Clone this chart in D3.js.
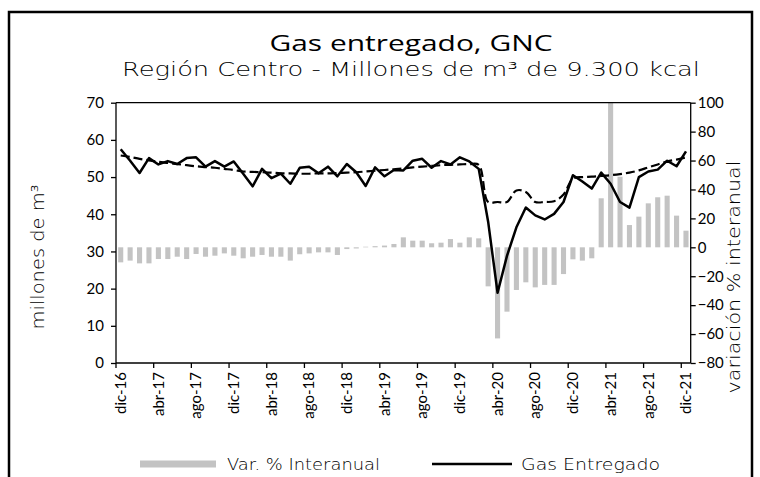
<!DOCTYPE html>
<html>
<head>
<meta charset="utf-8">
<script src="https://cdn.jsdelivr.net/npm/d3@7"></script>
<style>
  html, body { margin: 0; padding: 0; background: #fff; }
  svg { display: block; }
  text { font-family: "Lato", "Open Sans", sans-serif; fill: #000; }
</style>
</head>
<body>
<svg id="chart" width="760" height="477"></svg>
<script>
// Monthly GNC gas delivered, Región Centro, dic-2016 .. dic-2021
const monthNames = ["ene","feb","mar","abr","may","jun","jul","ago","sep","oct","nov","dic"];
const months = ["dic-16"];
for (let y = 17; y <= 21; y++) monthNames.forEach(m => months.push(m + "-" + y));

// Gas entregado (millones de m3)
const gasEntregado = [
  57.5, 54.4, 51.1, 55.1, 53.4, 54.3, 53.5, 55.1, 55.3, 52.8, 54.3, 52.8,
  54.2, 50.9, 47.5, 52.2, 49.7, 50.9, 48.2, 52.5, 52.8, 51.0, 52.8, 50.2,
  53.5, 51.3, 47.6, 52.6, 50.2, 51.9, 51.8, 54.4, 54.9, 52.5, 54.3, 53.4,
  55.3, 54.2, 52.2, 38.0, 18.9, 28.8, 36.5, 41.8, 39.7, 38.6, 40.1, 43.3,
  50.5, 48.8, 46.9, 51.2, 48.2, 43.3, 41.8, 50.0, 51.5, 52.0, 54.4, 52.9,
  56.9
];

// Trend of gas delivered (dashed line)
const tendencia = [
  55.8, 55.4, 54.9, 54.5, 54.1, 53.8, 53.5, 53.2, 52.9, 52.7, 52.5, 52.2,
  51.9, 51.5, 51.4, 51.3, 51.2, 51.0, 51.0, 50.9, 50.9, 51.0, 51.0, 51.1,
  51.2, 51.3, 51.5, 51.7, 51.9, 52.1, 52.3, 52.6, 52.8, 53.0, 53.2, 53.3,
  53.4, 53.5, 53.3, 43.3, 43.3, 43.3, 46.4, 46.0, 43.3, 43.3, 43.5, 45.3,
  49.6, 50.0, 50.1, 50.3, 50.5, 50.8, 51.2, 51.8, 52.6, 53.4, 54.2, 54.7,
  55.3
];

// Variación % interanual
const variacion = [
  -10.4, -9.2, -11.1, -11.1, -8.1, -8.1, -6.5, -8.1, -4.6, -6.5, -5.8, -4.2,
  -5.8, -7.6, -6.5, -5.3, -6.5, -6.5, -9.2, -4.8, -4.2, -3.5, -3.5, -5.3,
  -1.2, -0.8, 0.4, 0.8, 1.2, 2.3, 6.9, 4.6, 4.6, 2.8, 3.2, 5.7,
  3.2, 6.9, 6.2, -27.0, -63.0, -44.5, -29.5, -24.2, -27.7, -26.0, -26.0, -18.5,
  -8.3, -9.2, -7.6, 33.9, 155.0, 48.8, 15.4, 21.2, 30.4, 34.6, 35.7, 21.9,
  11.5
];

const leftTicks = [0, 10, 20, 30, 40, 50, 60, 70];
const rightTicks = [-80, -60, -40, -20, 0, 20, 40, 60, 80, 100];
const xTickLabels = months.filter((m, i) => i % 4 === 0);

const svg = d3.select("#chart");
const plot = { left: 116, right: 690.7, top: 102.7, bottom: 363 };
const lightFont = "'DejaVu Sans', sans-serif";

// Stretch a text horizontally to span the given width
function span(sel, width) {
  sel.attr("textLength", width).attr("lengthAdjust", "spacingAndGlyphs");
  return sel;
}

// Outer frame
svg.append("path")
  .attr("d", `M9,477 V12 H752 V477`)
  .attr("fill", "none").attr("stroke", "#000").attr("stroke-width", 2.5);

// Titles
svg.append("text").attr("x", 411).attr("y", 51).attr("text-anchor", "middle")
  .style("font-family", "'Open Sans', sans-serif").style("font-size", "21px")
  .text("Gas entregado, GNC").call(span, 283);
svg.append("text").attr("x", 411).attr("y", 76).attr("text-anchor", "middle")
  .style("font-family", lightFont).style("font-size", "19px").style("font-weight", 200)
  .text("Región Centro - Millones de m³ de 9.300 kcal").call(span, 578);

const pad = 0.46;
const x = d3.scaleBand().domain(months).range([plot.left, plot.right])
  .paddingInner(pad).paddingOuter(pad / 2);
const step = x.step();
const cx = m => x(m) + x.bandwidth() / 2;
const yL = d3.scaleLinear().domain([0, 70]).range([plot.bottom, plot.top]);
const yR = d3.scaleLinear().domain([-80, 100]).range([plot.bottom, plot.top]);

svg.append("clipPath").attr("id", "plotClip").append("rect")
  .attr("x", plot.left).attr("y", plot.top)
  .attr("width", plot.right - plot.left).attr("height", plot.bottom - plot.top);

// Bars: year-on-year change
svg.append("g").attr("clip-path", "url(#plotClip)")
  .selectAll("rect").data(variacion).join("rect")
  .attr("x", (d, i) => x(months[i]))
  .attr("width", x.bandwidth())
  .attr("y", d => yR(Math.max(0, d)))
  .attr("height", d => Math.abs(yR(d) - yR(0)))
  .attr("fill", "#c3c3c3");

// Trend (dashed)
svg.append("path")
  .datum(tendencia)
  .attr("fill", "none").attr("stroke", "#000").attr("stroke-width", 2.2)
  .attr("stroke-dasharray", "9,4")
  .attr("d", d3.line().x((d, i) => cx(months[i])).y(d => yL(d)).curve(d3.curveCatmullRom.alpha(0.5)));

// Gas delivered (solid)
svg.append("path")
  .datum(gasEntregado)
  .attr("fill", "none").attr("stroke", "#000").attr("stroke-width", 2.5)
  .attr("stroke-linejoin", "round")
  .attr("d", d3.line().x((d, i) => cx(months[i])).y(d => yL(d)));

// Plot frame top line
svg.append("line").attr("x1", plot.left).attr("x2", plot.right)
  .attr("y1", plot.top).attr("y2", plot.top).attr("stroke", "#000").attr("stroke-width", 1.3);

// Left axis
const gL = svg.append("g").attr("transform", `translate(${plot.left},0)`)
  .call(d3.axisLeft(yL).tickValues(leftTicks).tickSize(5).tickPadding(7));
// Right axis
const gR = svg.append("g").attr("transform", `translate(${plot.right},0)`)
  .call(d3.axisRight(yR).tickValues(rightTicks).tickSize(5).tickPadding(2));
[gL, gR].forEach(g => {
  g.select(".domain").attr("stroke", "#000").attr("stroke-width", 1.3);
  g.selectAll(".tick line").attr("stroke", "#000").attr("stroke-width", 1.3);
  g.selectAll(".tick text").style("font-size", "15px").style("font-family", "Lato, sans-serif").attr("fill", "#000");
});
gL.select(".domain").attr("d", `M-0,${plot.top}V${plot.bottom}`);
gR.select(".domain").attr("d", `M0,${plot.top}V${plot.bottom}`);

// Bottom axis: ticks on category boundaries, labels rotated
const gX = svg.append("g").attr("transform", `translate(0,${plot.bottom})`)
  .call(d3.axisBottom(x).tickValues(xTickLabels).tickSize(5).tickPadding(6));
gX.select(".domain").attr("d", `M${plot.left},0H${plot.right}`).attr("stroke", "#000").attr("stroke-width", 1.3);
gX.selectAll(".tick line").attr("x1", -step / 2).attr("x2", -step / 2)
  .attr("stroke", "#000").attr("stroke-width", 1.3);
gX.selectAll(".tick text")
  .style("font-size", "15px").style("font-family", "Lato, sans-serif").attr("fill", "#000")
  .attr("text-anchor", "end").attr("dy", "0.35em")
  .attr("transform", "translate(0,3) rotate(-90)")
  .attr("x", -6).attr("y", 0);

// Axis titles
svg.append("text").attr("transform", "translate(44,257) rotate(-90)")
  .attr("text-anchor", "middle").style("font-family", lightFont).style("font-size", "17px").style("font-weight", 200)
  .text("millones de m³").call(span, 145);
svg.append("text").attr("transform", "translate(740,277) rotate(-90)")
  .attr("text-anchor", "middle").style("font-family", lightFont).style("font-size", "17px").style("font-weight", 200)
  .text("variación % interanual").call(span, 233);

// Legend
const lg = svg.append("g");
lg.append("rect").attr("x", 140).attr("y", 460.5).attr("width", 76).attr("height", 7).attr("fill", "#c3c3c3");
lg.append("text").attr("x", 227).attr("y", 470).style("font-family", lightFont).style("font-size", "15px").style("font-weight", 200)
  .text("Var. % Interanual").call(span, 153);
lg.append("line").attr("x1", 432).attr("x2", 512).attr("y1", 464).attr("y2", 464)
  .attr("stroke", "#000").attr("stroke-width", 2.5);
lg.append("text").attr("x", 521).attr("y", 470).style("font-family", lightFont).style("font-size", "15px").style("font-weight", 200)
  .text("Gas Entregado").call(span, 139);
</script>
</body>
</html>
